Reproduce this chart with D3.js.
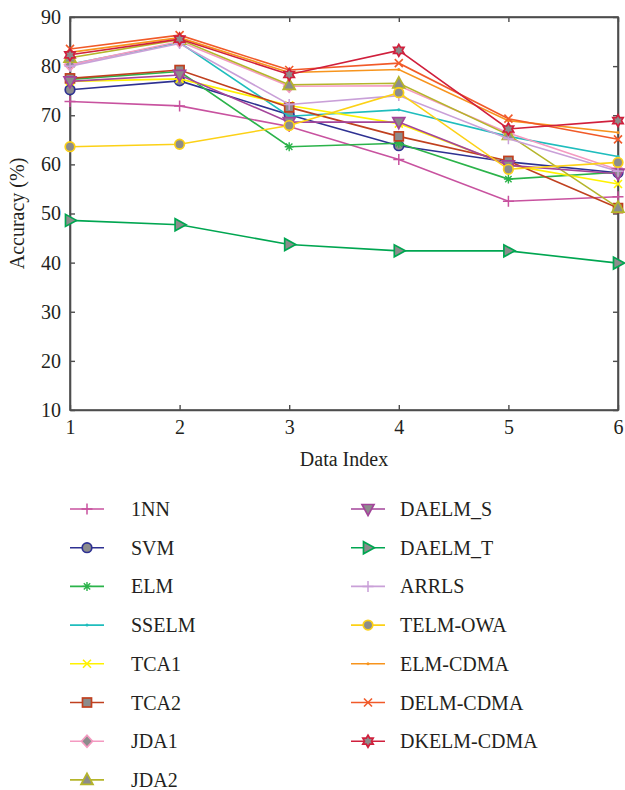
<!DOCTYPE html>
<html><head><meta charset="utf-8">
<script src="https://cdn.jsdelivr.net/npm/d3@7"></script>
<style>body{margin:0;background:#fff}svg{display:block}text{font-family:"Liberation Serif","DejaVu Serif",serif;fill:#231f20}</style>
</head><body><div id="c"></div>
<script>
const dataIndex = [1, 2, 3, 4, 5, 6];
const yTicks = [10, 20, 30, 40, 50, 60, 70, 80, 90];
const methods = ["1NN","SVM","ELM","SSELM","TCA1","TCA2","JDA1","JDA2","DAELM_S","DAELM_T","ARRLS","TELM-OWA","ELM-CDMA","DELM-CDMA","DKELM-CDMA"];
const v1NN      = [72.8, 71.9, 67.7, 61.0, 52.5, 53.4];
const vSVM      = [75.2, 77.0, 70.1, 63.8, 60.5, 58.3];
const vELM      = [77.3, 78.9, 63.6, 64.3, 57.0, 58.4];
const vSSELM    = [80.4, 84.8, 69.8, 71.1, 65.7, 61.6];
const vTCA1     = [76.9, 77.4, 72.0, 68.3, 59.9, 56.0];
const vTCA2     = [77.5, 79.2, 71.6, 65.7, 60.7, 51.1];
const vJDA1     = [80.3, 85.0, 75.9, 76.0, 66.4, 58.9];
const vJDA2     = [81.7, 85.4, 76.2, 76.5, 66.0, 51.2];
const vDAELM_S  = [76.9, 78.2, 68.6, 68.6, 59.8, 58.1];
const vDAELM_T  = [48.6, 47.7, 43.7, 42.4, 42.4, 39.9];
const vARRLS    = [80.0, 84.6, 72.2, 74.0, 65.2, 58.6];
const vTELM     = [63.6, 64.1, 67.9, 74.6, 59.0, 60.4];
const vELMCDMA  = [82.8, 85.8, 78.7, 79.3, 68.9, 66.5];
const vDELMCDMA = [83.5, 86.3, 79.2, 80.6, 69.3, 65.1];
const vDKELM    = [82.3, 85.5, 78.3, 83.2, 67.2, 68.9];
const seriesValues = [v1NN,vSVM,vELM,vSSELM,vTCA1,vTCA2,vJDA1,vJDA2,vDAELM_S,vDAELM_T,vARRLS,vTELM,vELMCDMA,vDELMCDMA,vDKELM];

// styles
const styles = [
  {c:"#c8529f", m:"plus"},
  {c:"#2e3192", m:"circle"},
  {c:"#2bb34a", m:"aster"},
  {c:"#1fbdbd", m:"dot"},
  {c:"#fff200", m:"cross"},
  {c:"#c0401f", m:"square"},
  {c:"#f49ac1", m:"diamond"},
  {c:"#b5b52a", m:"triup"},
  {c:"#a3449a", m:"tridown"},
  {c:"#00a651", m:"triright"},
  {c:"#c9a0d8", m:"plus"},
  {c:"#fcd116", m:"circle"},
  {c:"#f7941d", m:"dot"},
  {c:"#f15a29", m:"cross"},
  {c:"#d01f3c", m:"hex"}
];

const W = 625, H = 790;
const svg = d3.select("#c").append("svg").attr("width", W).attr("height", H);
const L = 70, R = 618, T = 17, B = 410;
const x = d3.scaleLinear().domain([1, 6]).range([L, R]);
const y = d3.scaleLinear().domain([10, 90]).range([B, T]);

svg.append("rect").attr("x", L).attr("y", T).attr("width", R - L).attr("height", B - T)
  .attr("fill", "none").attr("stroke", "#4d4d4d").attr("stroke-width", 1.6);

const fs = 20;
const ax = svg.append("g").attr("transform", `translate(0,${B})`)
  .call(d3.axisBottom(x).tickValues(dataIndex).tickFormat(d3.format("d")).tickSizeInner(-5).tickSizeOuter(0).tickPadding(10));
const ay = svg.append("g").attr("transform", `translate(${L},0)`)
  .call(d3.axisLeft(y).tickValues(yTicks).tickSizeInner(-5).tickSizeOuter(0).tickPadding(9));
const at = svg.append("g").attr("transform", `translate(0,${T})`)
  .call(d3.axisTop(x).tickValues(dataIndex).tickFormat("").tickSizeInner(-5).tickSizeOuter(0));
const ar = svg.append("g").attr("transform", `translate(${R},0)`)
  .call(d3.axisRight(y).tickValues(yTicks).tickFormat("").tickSizeInner(-5).tickSizeOuter(0));
[ax, ay, at, ar].forEach(g => {
  g.select(".domain").attr("stroke", "#4d4d4d").attr("stroke-width", 1.6);
  g.selectAll(".tick line").attr("stroke", "#4d4d4d").attr("stroke-width", 1.4);
  g.selectAll(".tick text").style("font-family", '"Liberation Serif",serif').style("font-size", fs + "px").attr("fill", "#231f20");
});

svg.append("text").attr("x", (L + R) / 2).attr("y", 466).attr("text-anchor", "middle")
  .style("font-size", fs + "px").text("Data Index");
svg.append("text").attr("transform", `translate(24,${(T + B) / 2}) rotate(-90)`).attr("text-anchor", "middle")
  .style("font-size", fs + "px").text("Accuracy (%)");

function hexPath(r) {
  const pts = [];
  for (let i = 0; i < 12; i++) {
    const a = -Math.PI / 2 + i * Math.PI / 6;
    const rr = i % 2 === 0 ? r : r * 0.58;
    pts.push([rr * Math.cos(a), rr * Math.sin(a)]);
  }
  return "M" + pts.map(p => p.join(",")).join("L") + "Z";
}
function drawMarker(g, type, c) {
  const grey = "#8c8c8c";
  switch (type) {
    case "plus":
      g.append("path").attr("d", "M-5.5,0H5.5M0,-5.5V5.5").attr("stroke", c).attr("stroke-width", 1.5).attr("fill", "none"); break;
    case "cross":
      g.append("path").attr("d", "M-4,-4L4,4M-4,4L4,-4").attr("stroke", c).attr("stroke-width", 1.6).attr("fill", "none"); break;
    case "aster":
      g.append("path").attr("d", "M-4.5,0H4.5M0,-4.5V4.5M-3.2,-3.2L3.2,3.2M-3.2,3.2L3.2,-3.2").attr("stroke", c).attr("stroke-width", 1.4).attr("fill", "none"); break;
    case "dot":
      g.append("circle").attr("r", 1.5).attr("fill", c); break;
    case "circle":
      g.append("circle").attr("r", 4.8).attr("fill", grey).attr("stroke", c).attr("stroke-width", 1.7); break;
    case "square":
      g.append("rect").attr("x", -4.5).attr("y", -4.5).attr("width", 9).attr("height", 9).attr("fill", grey).attr("stroke", c).attr("stroke-width", 1.7); break;
    case "diamond":
      g.append("path").attr("d", "M0,-6L5.5,0L0,6L-5.5,0Z").attr("fill", grey).attr("stroke", c).attr("stroke-width", 1.7); break;
    case "triup":
      g.append("path").attr("d", "M0,-6.5L6,4.5L-6,4.5Z").attr("fill", grey).attr("stroke", c).attr("stroke-width", 1.7); break;
    case "tridown":
      g.append("path").attr("d", "M0,6.5L6,-4.5L-6,-4.5Z").attr("fill", grey).attr("stroke", c).attr("stroke-width", 1.7); break;
    case "triright":
      g.append("path").attr("d", "M6.5,0L-4.5,-6L-4.5,6Z").attr("fill", grey).attr("stroke", c).attr("stroke-width", 1.7); break;
    case "hex":
      g.append("path").attr("d", hexPath(6)).attr("fill", grey).attr("stroke", c).attr("stroke-width", 1.7); break;
  }
}

const line = d3.line().x((d, i) => x(dataIndex[i])).y(d => y(d));
const plot = svg.append("g");
seriesValues.forEach((vals, si) => {
  const st = styles[si];
  const g = plot.append("g");
  g.append("path").attr("d", line(vals)).attr("fill", "none").attr("stroke", st.c).attr("stroke-width", 1.6);
  vals.forEach((v, i) => {
    const mg = g.append("g").attr("transform", `translate(${x(dataIndex[i])},${y(v)})`);
    drawMarker(mg, st.m, st.c);
  });
});

// legend
const leg = svg.append("g");
const rowY0 = 509, rowStep = 38.7;
methods.forEach((name, i) => {
  const col = i < 8 ? 0 : 1;
  const row = col === 0 ? i : i - 8;
  const lx = col === 0 ? 70 : 351;
  const tx = col === 0 ? 131 : 400;
  const yy = rowY0 + row * rowStep;
  const st = styles[i];
  leg.append("line").attr("x1", lx).attr("x2", lx + 34).attr("y1", yy).attr("y2", yy).attr("stroke", st.c).attr("stroke-width", 1.6);
  const mg = leg.append("g").attr("transform", `translate(${lx + 17},${yy})`);
  drawMarker(mg, st.m, st.c);
  leg.append("text").attr("x", tx).attr("y", yy + 7).style("font-size", fs + "px").text(name);
});
</script></body></html>
